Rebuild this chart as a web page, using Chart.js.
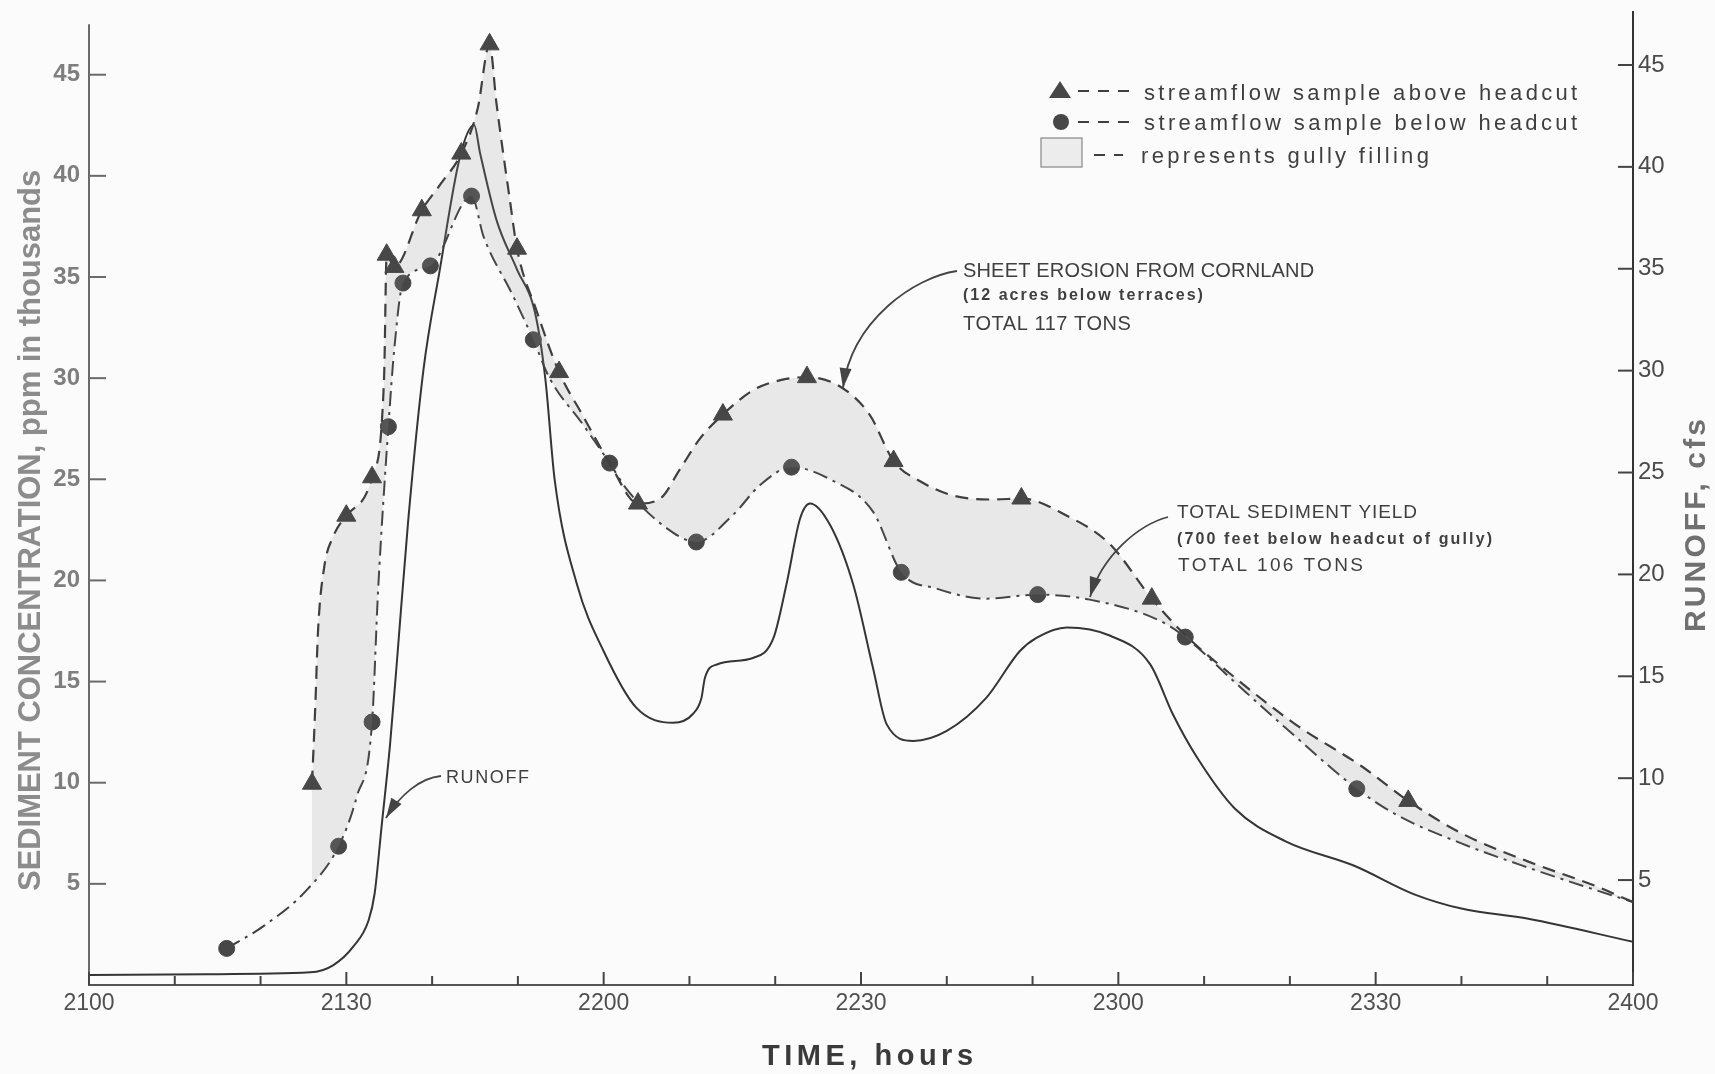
<!DOCTYPE html>
<html>
<head>
<meta charset="utf-8">
<script src="https://cdn.jsdelivr.net/npm/chart.js@4.4.1/dist/chart.umd.min.js"></script>
<style>
  html, body { margin: 0; padding: 0; background: #fbfbfb; }
  canvas { display: block; }
</style>
</head>
<body>
<canvas id="chart" width="1715" height="1074"></canvas>
<script>
// time is minutes after 2100 hours
// streamflow sample above headcut (dashed line, triangles); 1 = plotted sample
const aboveTime = [26.0, 26.4, 26.7, 27.4, 28.5, 30.0, 33.0, 34.4, 34.7, 35.6, 38.8, 41.0, 43.4, 45.3, 46.7, 47.5, 49.1, 49.9, 52.2, 54.8,
  57.5, 60.7, 64.0, 66.6, 68.9, 71.2, 73.9, 77.4, 80.6, 83.7, 87.5, 91.0, 93.8, 96.9, 100.7, 105.4, 108.7, 114.0, 119.0, 123.9,
  127.8, 133.0, 140.6, 148.4, 153.8, 160.0, 167.8, 175.6, 180.0];
const aboveConc = [9.95, 14.0, 17.5, 20.6, 22.2, 23.2, 25.1, 30.0, 36.1, 35.5, 38.3, 39.6, 41.1, 43.3, 46.5, 43.6, 38.7, 36.4, 33.3, 30.3,
  28.2, 25.8, 23.8, 24.05, 25.5, 27.0, 28.2, 29.4, 29.9, 30.05, 29.6, 28.2, 25.9, 24.9, 24.2, 24.0, 24.05, 23.2, 21.8, 19.1,
  17.3, 15.4, 12.9, 10.8, 9.1, 7.5, 6.1, 4.9, 4.1];
const aboveSample = [1, 0, 0, 0, 0, 1, 1, 0, 1, 1, 1, 0, 1, 0, 1, 0, 0, 1, 0, 1,
  0, 0, 1, 0, 0, 0, 1, 0, 0, 1, 0, 0, 1, 0, 0, 0, 1, 0, 0, 1,
  0, 0, 0, 0, 1, 0, 0, 0, 0];

// streamflow sample below headcut (dash-dot line, circles)
const belowTime = [16.05, 20.3, 25.4, 29.1, 31.2, 33.0, 33.7, 34.9, 35.6, 36.6, 39.8, 44.6, 46.0, 49.4, 51.8, 53.7, 57.6, 60.7, 62.7, 67.3,
  70.8, 75.1, 78.2, 81.9, 86.4, 91.4, 94.7, 98.8, 104.6, 110.6, 116.7, 124.9, 127.8, 133.5, 140.6, 147.8, 152.5, 160.0, 167.8, 175.6, 180.0];
const belowConc = [1.81, 2.9, 4.7, 6.86, 9.3, 13.0, 19.5, 27.6, 31.5, 34.7, 35.55, 39.0, 37.0, 34.1, 31.9, 30.0, 27.7, 25.8, 24.5, 22.6,
  21.9, 23.25, 24.7, 25.6, 25.0, 23.4, 20.4, 19.6, 19.1, 19.3, 19.05, 18.0, 17.2, 15.0, 12.3, 9.7, 8.4, 7.0, 5.8, 4.7, 4.1];
const belowSample = [1, 0, 0, 1, 0, 1, 0, 1, 0, 1, 1, 1, 0, 0, 1, 0, 0, 1, 0, 0,
  1, 0, 0, 1, 0, 0, 1, 0, 0, 1, 0, 0, 1, 0, 0, 1, 0, 0, 0, 0, 0];

// runoff, cfs (right axis)
const runoffTime = [0, 13.7, 25.8, 28.5, 30.8, 32.6, 33.3, 34.1, 35.1, 35.9, 37.2, 39.0, 40.9, 43.25, 44.9, 45.6, 47.5, 49.9, 52.0, 53.2,
  54.3, 56.9, 60.0, 63.8, 68.1, 70.4, 71.4, 71.8, 73.2, 77.4, 79.8, 81.3, 82.9, 84.05, 86.4, 89.1, 91.4, 93.0, 96.1, 100.0,
  104.6, 108.5, 110.5, 114.0, 119.0, 123.7, 126.4, 129.2, 133.6, 139.5, 147.5, 154.5, 160.0, 167.8, 180.0];
const runoffCfs = [0.34, 0.38, 0.47, 0.83, 1.73, 3.03, 4.34, 7.59, 11.67, 15.74, 22.58, 30.07, 34.96, 40.5, 42.05, 40.66, 37.4, 34.96, 32.84, 29.6,
  24.6, 19.49, 16.23, 13.46, 12.72, 13.15, 13.94, 14.92, 15.58, 15.9, 16.88, 19.49, 22.74, 23.48, 22.42, 19.49, 15.41, 12.64, 11.83, 12.32,
  13.94, 16.23, 16.9, 17.4, 17.0, 15.6, 13.1, 11.0, 8.5, 6.9, 5.7, 4.3, 3.6, 3.1, 1.97];

const timeTicks = [0, 10, 20, 30, 40, 50, 60, 70, 80, 90, 100, 110, 120, 130, 140, 150, 160, 170, 180];
const concTicks = [5, 10, 15, 20, 25, 30, 35, 40, 45];
const cfsTicks = [5, 10, 15, 20, 25, 30, 35, 40, 45];

const ink = '#3f3f3f';

function hhmm(m) {
  return String(21 + Math.floor(m / 60)) + String(m % 60).padStart(2, '0');
}
function toPoints(xs, ys) {
  return xs.map((x, i) => ({ x: x, y: ys[i] }));
}

// stretch or squeeze text to the width it has in the original
function drawFit(ctx, text, x, y, width, font, color) {
  ctx.font = font;
  ctx.letterSpacing = '0px';
  const w = ctx.measureText(text).width;
  ctx.letterSpacing = ((width - w) / (text.length - 1)).toFixed(2) + 'px';
  ctx.fillStyle = color;
  ctx.textAlign = 'left';
  ctx.textBaseline = 'alphabetic';
  ctx.fillText(text, x, y);
  ctx.letterSpacing = '0px';
}

function arrow(ctx, x0, y0, c1x, c1y, c2x, c2y, x1, y1) {
  ctx.beginPath();
  ctx.moveTo(x0, y0);
  ctx.bezierCurveTo(c1x, c1y, c2x, c2y, x1, y1);
  ctx.stroke();
  const a = Math.atan2(y1 - c2y, x1 - c2x);
  const len = 20, half = 6;
  ctx.beginPath();
  ctx.moveTo(x1, y1);
  ctx.lineTo(x1 - len * Math.cos(a) + half * Math.sin(a), y1 - len * Math.sin(a) - half * Math.cos(a));
  ctx.lineTo(x1 - len * Math.cos(a) - half * Math.sin(a), y1 - len * Math.sin(a) + half * Math.cos(a));
  ctx.closePath();
  ctx.fill();
}

function line(ctx, x0, y0, x1, y1) {
  ctx.beginPath();
  ctx.moveTo(x0, y0);
  ctx.lineTo(x1, y1);
  ctx.stroke();
}

// no label padding at the axis ends, so the plot area keeps its place
function fixBox(w, h) {
  return s => {
    if (w) s.width = w;
    if (h) s.height = h;
    s.paddingTop = 0;
    s.paddingBottom = 0;
    s.paddingLeft = 0;
    s.paddingRight = 0;
  };
}

const paper = {
  id: 'paper',
  beforeDraw(chart) {
    const ctx = chart.ctx;
    ctx.save();
    ctx.fillStyle = '#fbfbfb';
    ctx.fillRect(0, 0, chart.width, chart.height);
    ctx.restore();
  }
};

const decorations = {
  id: 'decorations',
  afterDraw(chart) {
    const ctx = chart.ctx;
    const { left, right, bottom } = chart.chartArea;
    const xs = chart.scales.x, ys = chart.scales.y, rs = chart.scales.y1;
    ctx.save();

    // left axis line and inward ticks
    ctx.strokeStyle = '#6a6a6a';
    ctx.lineWidth = 2;
    line(ctx, left, ys.getPixelForValue(47.5), left, bottom);
    concTicks.forEach(v => {
      const p = ys.getPixelForValue(v);
      line(ctx, left, p, left + 17, p);
    });
    ctx.strokeStyle = '#444';
    cfsTicks.forEach(v => {
      const p = rs.getPixelForValue(v);
      line(ctx, right - 15, p, right, p);
    });
    timeTicks.forEach(m => {
      const p = xs.getPixelForValue(m);
      line(ctx, p, bottom, p, bottom - (m % 30 ? 9 : 13));
    });

    // axis titles
    ctx.save();
    ctx.translate(40, 891);
    ctx.rotate(-Math.PI / 2);
    drawFit(ctx, 'SEDIMENT CONCENTRATION, ppm in thousands', 0, 0, 721, 'bold 31px "Liberation Sans"', '#8c8c8c');
    ctx.restore();
    ctx.save();
    ctx.translate(1705, 632);
    ctx.rotate(-Math.PI / 2);
    drawFit(ctx, 'RUNOFF, cfs', 0, 0, 213, 'bold 30px "Liberation Sans"', '#707070');
    ctx.restore();
    drawFit(ctx, 'TIME, hours', 762, 1065, 211, 'bold 29px "Liberation Sans"', '#3a3a3a');

    // legend
    ctx.fillStyle = '#474747';
    ctx.beginPath();
    ctx.moveTo(1060, 81); ctx.lineTo(1071, 98); ctx.lineTo(1049, 98); ctx.closePath();
    ctx.fill();
    ctx.beginPath();
    ctx.arc(1061, 122, 8, 0, Math.PI * 2);
    ctx.fill();
    ctx.fillStyle = '#ececec';
    ctx.fillRect(1041, 138, 41, 29);
    ctx.strokeStyle = '#888';
    ctx.lineWidth = 1.2;
    ctx.strokeRect(1041, 138, 41, 29);
    ctx.strokeStyle = ink;
    ctx.lineWidth = 2;
    ctx.setLineDash([11, 9]);
    line(ctx, 1078, 91, 1134, 91);
    line(ctx, 1078, 122, 1134, 122);
    line(ctx, 1094, 155, 1123, 155);
    ctx.setLineDash([]);
    drawFit(ctx, 'streamflow sample above headcut', 1144, 100, 433, '22px "Liberation Sans"', ink);
    drawFit(ctx, 'streamflow sample below headcut', 1144, 130, 433, '22px "Liberation Sans"', ink);
    drawFit(ctx, 'represents gully filling', 1141, 163, 288, '22px "Liberation Sans"', ink);

    // annotations
    drawFit(ctx, 'SHEET EROSION FROM CORNLAND', 963, 277, 351, '20px "Liberation Sans"', ink);
    drawFit(ctx, '(12 acres below terraces)', 963, 300, 240, 'bold 16px "Liberation Sans"', ink);
    drawFit(ctx, 'TOTAL 117 TONS', 963, 330, 168, '20px "Liberation Sans"', ink);
    drawFit(ctx, 'TOTAL SEDIMENT YIELD', 1177, 518, 240, '19px "Liberation Sans"', ink);
    drawFit(ctx, '(700 feet below headcut of gully)', 1177, 544, 315, 'bold 16px "Liberation Sans"', ink);
    drawFit(ctx, 'TOTAL 106 TONS', 1178, 571, 185, '19px "Liberation Sans"', ink);
    drawFit(ctx, 'RUNOFF', 446, 783, 83, '18px "Liberation Sans"', ink);

    ctx.strokeStyle = '#444';
    ctx.fillStyle = '#444';
    ctx.lineWidth = 1.8;
    arrow(ctx, 957, 271, 915, 277, 852, 320, 843, 388);
    arrow(ctx, 1168, 517, 1138, 525, 1102, 556, 1090, 597);
    arrow(ctx, 441, 776, 420, 778, 400, 795, 386, 818);

    ctx.restore();
  }
};

const ctx = document.getElementById('chart').getContext('2d');
const chart = new Chart(ctx, {
  type: 'line',
  data: {
    datasets: [
      {
        label: 'streamflow sample above headcut',
        data: toPoints(aboveTime, aboveConc),
        yAxisID: 'y',
        borderColor: ink,
        borderWidth: 2.2,
        borderDash: [13, 8],
        cubicInterpolationMode: 'monotone',
        pointStyle: 'triangle',
        pointRadius: aboveSample.map(s => s ? 11 : 0),
        pointBackgroundColor: '#474747',
        pointBorderColor: '#474747',
        pointBorderWidth: 1,
        fill: 1,
        backgroundColor: 'rgba(150, 150, 150, 0.18)'
      },
      {
        label: 'streamflow sample below headcut',
        data: toPoints(belowTime, belowConc),
        yAxisID: 'y',
        borderColor: ink,
        borderWidth: 2,
        borderDash: [15, 6, 3, 6],
        cubicInterpolationMode: 'monotone',
        pointStyle: 'circle',
        pointRadius: belowSample.map(s => s ? 8 : 0),
        pointBackgroundColor: '#474747',
        pointBorderColor: '#474747',
        pointBorderWidth: 1,
        fill: false
      },
      {
        label: 'runoff',
        data: toPoints(runoffTime, runoffCfs),
        yAxisID: 'y1',
        borderColor: '#353535',
        borderWidth: 2,
        cubicInterpolationMode: 'monotone',
        pointRadius: 0,
        fill: false
      }
    ]
  },
  options: {
    responsive: false,
    animation: false,
    devicePixelRatio: 1,
    events: [],
    layout: { padding: { top: 8, left: 0, right: 0, bottom: 0 } },
    plugins: {
      legend: { display: false },
      tooltip: { enabled: false }
    },
    scales: {
      x: {
        type: 'linear',
        min: 0,
        max: 180,
        grid: { display: false, drawTicks: false },
        border: { display: true, color: '#555', width: 2 },
        afterBuildTicks: s => { s.ticks = timeTicks.map(v => ({ value: v })); },
        afterFit: fixBox(0, 89),
        ticks: {
          autoSkip: false,
          maxRotation: 0,
          padding: 5,
          color: '#505050',
          font: { family: 'Liberation Sans', size: 23 },
          callback: v => (v % 30 === 0 ? hhmm(v) : '')
        }
      },
      y: {
        position: 'left',
        min: 0,
        max: 48.1,
        grid: { display: false, drawTicks: false },
        border: { display: false },
        afterBuildTicks: s => { s.ticks = concTicks.map(v => ({ value: v })); },
        afterFit: fixBox(89, 0),
        ticks: {
          padding: 9,
          color: '#7e7e7e',
          font: { family: 'Liberation Sans', size: 24, weight: 'bold' }
        }
      },
      y1: {
        position: 'right',
        min: -0.15,
        max: 47.6,
        grid: { display: false, drawTicks: false },
        border: { display: true, color: '#333', width: 2 },
        afterBuildTicks: s => { s.ticks = cfsTicks.map(v => ({ value: v })); },
        afterFit: fixBox(82, 0),
        ticks: {
          padding: 5,
          color: '#4a4a4a',
          font: { family: 'Liberation Sans', size: 24 }
        }
      }
    }
  },
  plugins: [paper, decorations]
});
</script>
</body>
</html>
